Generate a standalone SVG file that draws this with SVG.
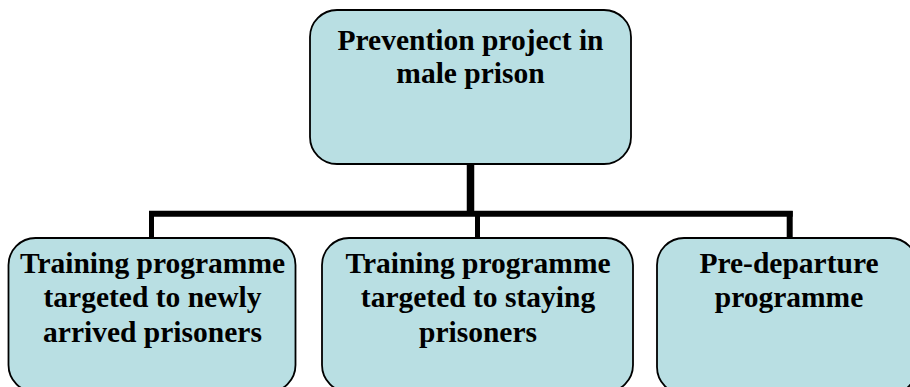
<svg xmlns="http://www.w3.org/2000/svg" width="910" height="387" viewBox="0 0 910 387">
<style>
.box{fill:#B9DFE3;stroke:#000;stroke-width:1.8}
.lbl{font-family:"Liberation Serif","Times New Roman",serif;font-weight:bold;font-size:29.5px;fill:#000;text-anchor:middle}
.con{stroke:#000;fill:none}
</style>
<rect width="910" height="387" fill="#fff"/>
<g id="connectors">
<line class="con" x1="470.5" y1="164" x2="470.5" y2="214" stroke-width="7.5"/>
<line class="con" x1="149" y1="213.7" x2="792.7" y2="213.7" stroke-width="6"/>
<line class="con" x1="151.5" y1="211" x2="151.5" y2="238" stroke-width="5"/>
<line class="con" x1="477.5" y1="214" x2="477.5" y2="238" stroke-width="5"/>
<line class="con" x1="789.7" y1="211" x2="789.7" y2="238" stroke-width="6"/>
</g>
<g id="top">
<rect class="box" x="310" y="10" width="321" height="154" rx="27"/>
<text class="lbl" x="470.5" y="50">Prevention project in</text>
<text class="lbl" x="470.5" y="83">male prison</text>
</g>
<g id="newly">
<rect class="box" x="8.5" y="238" width="287" height="154" rx="27"/>
<text class="lbl" x="152.5" y="273">Training programme</text>
<text class="lbl" x="152.5" y="307">targeted to newly</text>
<text class="lbl" x="152.5" y="342">arrived prisoners</text>
</g>
<g id="staying">
<rect class="box" x="322" y="238" width="311" height="154" rx="27"/>
<text class="lbl" x="478" y="273">Training programme</text>
<text class="lbl" x="478" y="307">targeted to staying</text>
<text class="lbl" x="478" y="342">prisoners</text>
</g>
<g id="predeparture">
<rect class="box" x="657" y="238" width="260" height="156" rx="27"/>
<text class="lbl" x="789" y="273">Pre-departure</text>
<text class="lbl" x="789" y="307">programme</text>
</g>
</svg>
